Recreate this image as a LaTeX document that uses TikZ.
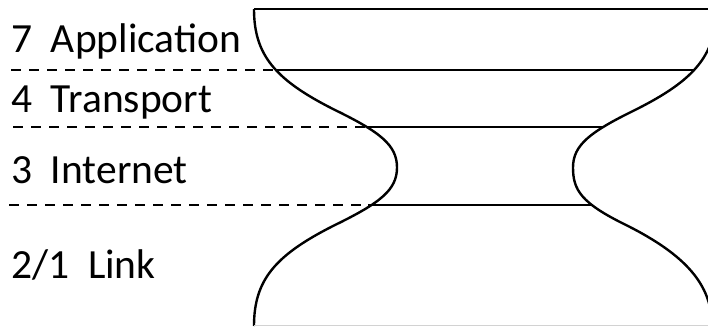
\documentclass[tikz,border=0pt]{standalone}
\usepackage{fontspec}
\setmainfont{Carlito}
\begin{document}
\begin{tikzpicture}[x=1pt,y=-1pt,
  layer/.style={line width=2.4pt},
  sep/.style={line width=2.4pt, dash pattern=on 10pt off 8pt},
  lbl/.style={anchor=base west, inner sep=0pt, font=\fontsize{41.5}{50}\selectfont}]
\useasboundingbox (0,0) rectangle (708,326);
\clip (0,0) rectangle (708,326);
% key points
\coordinate (tl) at (254,9);
\coordinate (tr) at (716,9);
\coordinate (al) at (277,70);
\coordinate (ar) at (695,70);
\coordinate (bl) at (368,127);
\coordinate (br) at (603,127);
\coordinate (cl) at (368,205);
\coordinate (cr) at (593,205);
\coordinate (d1) at (11,70);
\coordinate (d2) at (13,127);
\coordinate (d3) at (9,205);
% hourglass outline
\draw[layer] (tl) .. controls (254,55) and (275,80) .. (335,110)
  .. controls (380,132) and (397,145) .. (397,167.5)
  .. controls (397,190) and (380,203) .. (335,225)
  .. controls (275,255) and (254,280) .. (254,326);
\draw[layer] (tr) .. controls (716,55) and (695,80) .. (635,110)
  .. controls (590,132) and (573,145) .. (573,167.5)
  .. controls (573,190) and (581,203) .. (626,225)
  .. controls (686,255) and (712,285) .. (712,326);
\draw[line width=1pt, gray!35] (254,325.5) -- (708,325.5);
% layer boundaries
\draw[layer] (tl) -- (tr);
\draw[layer] (al) -- (ar);
\draw[layer] (bl) -- (br);
\draw[layer] (cl) -- (cr);
% dashed separators
\draw[sep] (d1) -- (al);
\draw[sep] (d2) -- (bl);
\draw[sep] (d3) -- (cl);
% labels
\node[lbl] (app) at (11,53) {7\ \ Application};
\node[lbl] (tra) at (11,113) {4\ \ Transport};
\node[lbl] (int) at (11,183) {3\ \ Internet};
\node[lbl] (lnk) at (11,278) {2/1\ \ Link};
\end{tikzpicture}
\end{document}
